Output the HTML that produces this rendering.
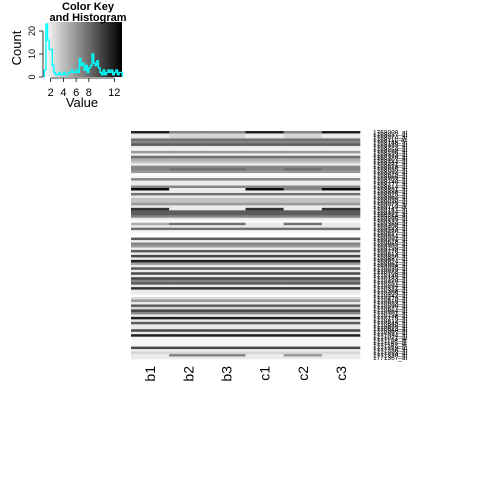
<!DOCTYPE html>
<html><head><meta charset="utf-8"><style>
html,body{margin:0;padding:0;background:#fff;}
svg{display:block;font-family:"Liberation Sans",sans-serif;}
</style></head><body>
<svg id="chart" width="480" height="480" viewBox="0 0 480 480">
  <g id="key">
    <defs><linearGradient id="grad" x1="0" x2="1" y1="0" y2="0"><stop offset="0" stop-color="#ffffff"/><stop offset="1" stop-color="#000000"/></linearGradient></defs>
    <rect x="44" y="22" width="78" height="55" fill="url(#grad)"/>
    <text x="88" y="10" font-size="11" font-weight="bold" text-anchor="middle">Color Key</text>
    <text x="88" y="21" font-size="11" font-weight="bold" text-anchor="middle">and Histogram</text>
    <text x="82" y="107" font-size="13" text-anchor="middle">Value</text>
    <text transform="translate(21,48) rotate(-90)" font-size="13" text-anchor="middle">Count</text>
  </g>
  <g id="heat"></g>
  <g id="labels"></g>
</svg>
<script>
const columns = ["b1","b2","b3","c1","c2","c3"];
const rowValues = [
[12,7,7,12,7,12],[2,3,3,2,3,2],[2,3,3,2,3,2],8,7,9,2,1.5,6,2,8,5,4,2,7,[7,8,8,7,8,7],6,1,1.5,7,2,2,7,
[13,2,2,13,7,13],2,8,2,4,4,6,2,[11,2,2,11,2,11],9,9,7,2,1,[5,8,8,2,8,2],2,8,1.5,1,1,9,2,7,6,2,9,2,10,2,
12,6,2,9,2,10,2,10,7,9,2,11,2,2,1,3,6,2,9,3,10,7,2,12,2,9,2,2,10,2,12,1.5,1.5,1.5,1.5,10,2,3,[2,7,7,2,6,2],2
];
const rowNames = rowValues.map((v,i)=>"17"+(68000+i*37)+"_at");
const histStart = 1.0, histStep = 0.25;
const histCounts = [3,23,16,12,12,5,2,1,1,2,1,1,2,1,1,2,2,3,2,2,3,2,8,5,6,3,5,2,4,5,10,6,5,7,4,2,1,3,1,2,3,2,3,1,2,3,1,2,2];
const xTicks = [2,4,6,8,12];
const yTicks = [0,10,20];

const NS="http://www.w3.org/2000/svg";
function mk(tag,attrs,parent){const e=document.createElementNS(NS,tag);for(const k in attrs)e.setAttribute(k,attrs[k]);parent.appendChild(e);return e;}
const key=document.getElementById('key'), heat=document.getElementById('heat'), labels=document.getElementById('labels');

const kx=v=>50.7+(v-2)*6.36, ky=c=>77-c*2.3;
let d="M"+kx(histStart)+","+ky(0);
histCounts.forEach((c,i)=>{const x0=kx(histStart+i*histStep),x1=kx(histStart+(i+1)*histStep);d+=" L"+x0+","+ky(c)+" L"+x1+","+ky(c);});
d+=" L"+kx(histStart+histCounts.length*histStep)+","+ky(0);
const hp=mk('path',{d:d,fill:'none',stroke:'#00ffff','stroke-width':1.4},key);


mk('line',{x1:43,y1:ky(0),x2:43,y2:ky(20),stroke:'#000','stroke-width':0.8},key);
yTicks.forEach(t=>{
  mk('line',{x1:39,y1:ky(t),x2:43,y2:ky(t),stroke:'#000','stroke-width':0.8},key);
  const tx=mk('text',{transform:`translate(35,${ky(t)}) rotate(-90)`,'font-size':9,'text-anchor':'middle'},key);
  tx.textContent=t;
  
  
});
mk('line',{x1:kx(2),y1:78,x2:kx(12),y2:78,stroke:'#000','stroke-width':0.8},key);
xTicks.forEach(t=>{
  mk('line',{x1:kx(t),y1:78,x2:kx(t),y2:82,stroke:'#000','stroke-width':0.8},key);
  const tx=mk('text',{x:kx(t),y:96,'font-size':11,'text-anchor':'middle'},key);
  tx.textContent=t;
  
  
});

const hx0=131,hx1=360,hy0=131,hy1=359;
const cw=(hx1-hx0)/columns.length, rh=(hy1-hy0)/rowValues.length;
const gray=v=>{const g=Math.round(255*(1-(v-1)/12.5));return `rgb(${g},${g},${g})`;};
rowValues.forEach((r,i)=>{
  columns.forEach((c,j)=>{
    const v=Array.isArray(r)?r[j]:r;
    const rc=mk('rect',{x:hx0+j*cw,y:hy0+i*rh,width:cw+0.3,height:rh+0.3,fill:gray(v)},heat);
    
    
  });
  const t=mk('text',{x:373,y:hy0+(i+1)*rh+1,'font-size':6.5,fill:'#000'},labels);
  t.textContent=rowNames[i];
  
  
});
columns.forEach((c,j)=>{
  const t=mk('text',{transform:`translate(${hx0+(j+0.5)*cw+5},366) rotate(-90)`,'font-size':14,'text-anchor':'end'},labels);
  t.textContent=c;
  
  
});
</script>
</body></html>
